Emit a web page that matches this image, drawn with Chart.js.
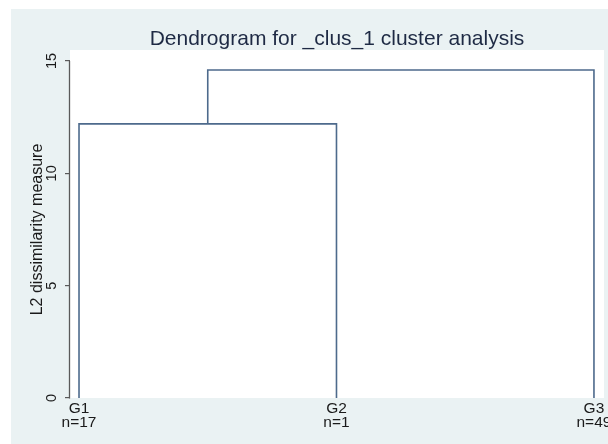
<!DOCTYPE html>
<html>
<head>
<meta charset="utf-8">
<script src="https://cdn.jsdelivr.net/npm/chart.js@4/dist/chart.umd.min.js"></script>
<style>
  html, body { margin: 0; padding: 0; background: #ffffff; overflow: hidden; width: 608px; height: 444px; }
  #wrap { position: absolute; left: 11px; top: 9px; width: 620px; height: 435px; background: #eaf2f3; }
  canvas { display: block; }
</style>
</head>
<body>
<div id="wrap"><canvas id="c" width="620" height="435"></canvas></div>
<script>
// ---- data ----
const leafLabels = ["G1", "G2", "G3"];
const leafCounts = [17, 1, 49];
// merges: node ids 0..2 are leaves, 3.. are merge nodes in order
const mergeLeft = [0, 3];
const mergeRight = [1, 2];
const mergeHeights = [12.2, 14.6];
const yTickValues = [0, 5, 10, 15];
const titleText = "Dendrogram for _clus_1 cluster analysis";
const yTitleText = "L2 dissimilarity measure";

// ---- build link datasets from the data ----
const nodeX = leafLabels.map((_, i) => i + 1);
const nodeY = leafLabels.map(() => 0);
const datasets = [];
mergeHeights.forEach((h, k) => {
  const l = mergeLeft[k], r = mergeRight[k];
  datasets.push({
    data: [
      { x: nodeX[l], y: nodeY[l] },
      { x: nodeX[l], y: h },
      { x: nodeX[r], y: h },
      { x: nodeX[r], y: nodeY[r] }
    ],
    showLine: true,
    borderColor: '#4d6a8c',
    borderWidth: 1.6,
    pointRadius: 0,
    fill: false,
    tension: 0
  });
  nodeX.push((nodeX[l] + nodeX[r]) / 2);
  nodeY.push(h);
});

const FONT = "'Liberation Sans', Arial, sans-serif";

const decor = {
  id: 'decor',
  beforeDraw(chart) {
    const { ctx, chartArea: a } = chart;
    ctx.save();
    ctx.fillStyle = '#ffffff';
    ctx.fillRect(a.left, a.top, a.right - a.left, a.bottom - a.top);
    ctx.restore();
  },
  afterDraw(chart) {
    const { ctx, chartArea: a } = chart;
    const ys = chart.scales.y;
    const y0 = ys.getPixelForValue(yTickValues[0]);
    const y1 = ys.getPixelForValue(yTickValues[yTickValues.length - 1]);
    ctx.save();
    // title centred over the plot region
    ctx.fillStyle = '#1e2a44';
    ctx.font = "21px " + FONT;
    ctx.textAlign = 'center';
    ctx.textBaseline = 'alphabetic';
    ctx.fillText(titleText, (a.left + a.right) / 2, 36);
    // axis line
    ctx.strokeStyle = '#5a5a5a';
    ctx.lineWidth = 1.3;
    ctx.beginPath();
    ctx.moveTo(a.left - 0.5, y0 + 0.5);
    ctx.lineTo(a.left - 0.5, y1);
    ctx.stroke();
    // tick labels
    ctx.fillStyle = '#1a1a1a';
    ctx.font = "14.5px " + FONT;
    ctx.textAlign = 'center';
    ctx.textBaseline = 'middle';
    yTickValues.forEach(v => {
      const py = ys.getPixelForValue(v);
      ctx.save();
      ctx.translate(a.left - 18, py);
      ctx.rotate(-Math.PI / 2);
      ctx.fillText(String(v), 0, 0);
      ctx.restore();
    });
    // axis title
    ctx.font = "16px " + FONT;
    ctx.save();
    ctx.translate(a.left - 32, (y0 + y1) / 2);
    ctx.rotate(-Math.PI / 2);
    ctx.fillText(yTitleText, 0, 0);
    ctx.restore();
    ctx.restore();
  }
};

new Chart(document.getElementById('c'), {
  type: 'scatter',
  data: { datasets },
  plugins: [decor],
  options: {
    responsive: false,
    animation: false,
    events: [],
    layout: { padding: { left: 0, right: 27, top: 41, bottom: 0 } },
    plugins: {
      legend: { display: false },
      tooltip: { enabled: false },
      title: { display: false }
    },
    scales: {
      x: {
        type: 'linear',
        min: 0.965,
        max: 3.039,
        afterBuildTicks(s) { s.ticks = leafLabels.map((_, i) => ({ value: i + 1 })); },
        afterFit(s) { s.height = 46; },
        grid: { display: false, drawTicks: false },
        border: { display: false },
        ticks: {
          autoSkip: false,
          maxRotation: 0,
          minRotation: 0,
          padding: 4,
          color: '#1a1a1a',
          font: { family: FONT, size: 15.5, lineHeight: 0.88 },
          callback: (v) => [leafLabels[v - 1], 'n=' + leafCounts[v - 1]]
        }
      },
      y: {
        type: 'linear',
        min: 0,
        max: 15.49,
        afterBuildTicks(s) { s.ticks = yTickValues.map(v => ({ value: v })); },
        afterFit(s) { s.width = 59; },
        grid: { display: true, drawOnChartArea: false, drawTicks: true, tickLength: 5, color: '#5a5a5a', lineWidth: 1.2 },
        border: { display: false },
        ticks: { display: false }
      }
    }
  }
});
</script>
</body>
</html>
